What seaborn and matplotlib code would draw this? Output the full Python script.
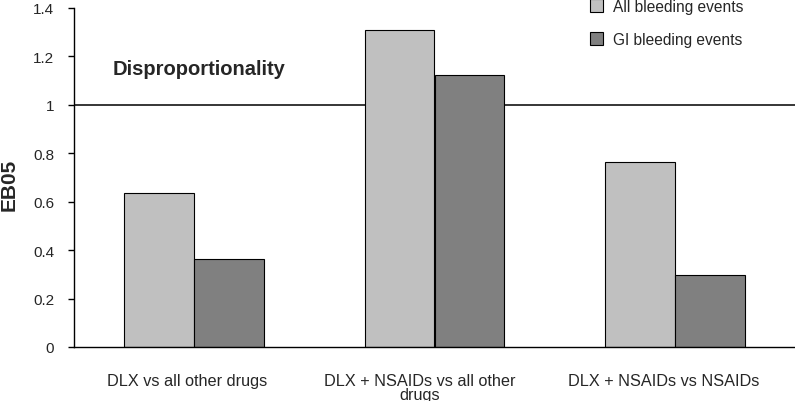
import matplotlib
matplotlib.use("Agg")
import matplotlib.pyplot as plt
import matplotlib.transforms as mtransforms
import seaborn as sns
import pandas as pd

categories = ["DLX vs all other drugs", "DLX + NSAIDs vs all other\ndrugs", "DLX + NSAIDs vs NSAIDs"]
series = ["All bleeding events", "GI bleeding events"]
all_bleeding = [0.636, 1.31, 0.764]
gi_bleeding = [0.364, 1.124, 0.297]
yticks = [0, 0.2, 0.4, 0.6, 0.8, 1, 1.2, 1.4]
ytick_labels = ["0", "0.2", "0.4", "0.6", "0.8", "1", "1.2", "1.4"]

df = pd.DataFrame({
    "cat": categories * 2,
    "series": [series[0]] * 3 + [series[1]] * 3,
    "value": all_bleeding + gi_bleeding,
})

sns.set_style("white")
plt.rcParams["font.family"] = ["Liberation Sans", "DejaVu Sans"]

fig = plt.figure(figsize=(7.95, 4.02), dpi=100)
ax = fig.add_axes([74/795, 54/402, 721/795, 339/402])

ax.axhline(1, color="black", lw=1.1, zorder=0)
sns.barplot(data=df, x="cat", y="value", hue="series", order=categories,
            hue_order=series, palette=["#c0c0c0", "#808080"], width=0.58,
            edgecolor="black", linewidth=0.8, ax=ax, zorder=2, legend=True)

ax.set_xlim(-0.5, 2.5)
ax.set_ylim(0, 1.4)
ax.set_yticks(yticks)
ax.set_yticklabels(ytick_labels, fontsize=11)
ax.set_xticks([0, 1, 2])
ax.set_xticklabels(categories, fontsize=11.7, linespacing=0.9)
ax.tick_params(axis="x", length=0, pad=19)
# Shift category labels slightly left as in the reference
for lab, dx in zip(ax.get_xticklabels(), [-7, -15, -11]):
    lab.set_transform(lab.get_transform() +
                      mtransforms.ScaledTranslation(dx / 100, 0, fig.dpi_scale_trans))
ax.set_xticks([-0.5, 0.5, 1.5, 2.5], minor=True)
ax.tick_params(axis="x", which="minor", length=6.5, direction="out", color="black", width=1)
ax.tick_params(axis="y", length=4.3, direction="out", color="black", width=1, left=True, pad=10)
for s in ["top", "right"]:
    ax.spines[s].set_visible(False)
for s in ["left", "bottom"]:
    ax.spines[s].set_color("black")
    ax.spines[s].set_linewidth(1)
ax.set_xlabel("")
ax.set_ylabel("EB05", fontsize=15, fontweight="bold")
ax.yaxis.set_label_coords(-0.077, 0.481)

ax.text(0.053, 1.149, "Disproportionality", transform=ax.get_yaxis_transform(),
        fontsize=14.5, fontweight="bold", va="center", ha="left")

handles, labels = ax.get_legend_handles_labels()
ax.legend(handles, labels, loc="upper left", bbox_to_anchor=(590/795, 1.0),
          bbox_transform=fig.transFigure, frameon=False, fontsize=11.2,
          handlelength=0.85, handleheight=0.85, labelspacing=1.16, handletextpad=0.6,
          borderaxespad=0, borderpad=0)

fig.savefig("out.png", dpi=100)
